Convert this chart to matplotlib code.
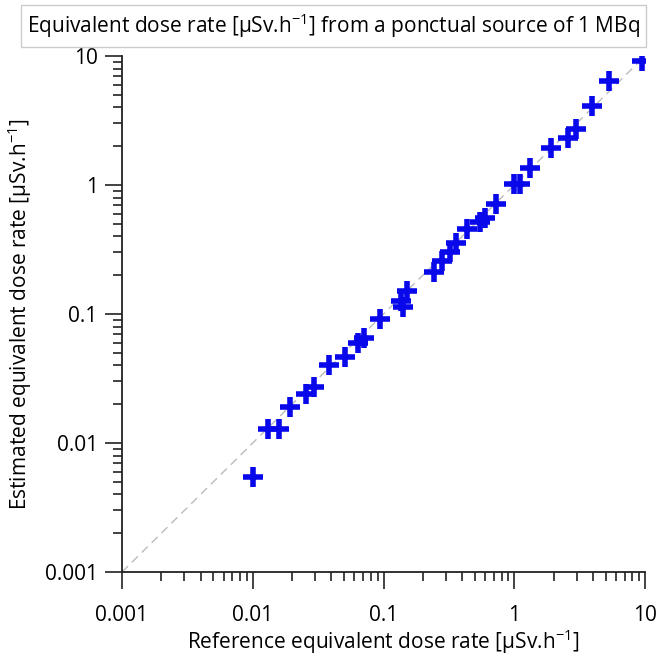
import numpy as np
import matplotlib.pyplot as plt

plt.rcParams['font.family'] = ['Open Sans', 'DejaVu Sans']
plt.rcParams['mathtext.fontset'] = 'custom'
plt.rcParams['mathtext.rm'] = 'Open Sans'

# reference vs estimated dose rates (uSv/h)
reference = [0.0101, 0.0130, 0.0160, 0.0193, 0.0256, 0.0294, 0.0383, 0.0505,
             0.0642, 0.0710, 0.0940, 0.136, 0.150, 0.141, 0.244, 0.281, 0.323,
             0.360, 0.433, 0.547, 0.598, 0.725, 0.996, 1.107, 1.324, 1.910,
             2.591, 2.967, 3.911, 5.333, 9.437]
estimated = [0.00548, 0.0128, 0.0128, 0.0191, 0.0240, 0.0273, 0.0399, 0.0464,
             0.0601, 0.0646, 0.0915, 0.126, 0.151, 0.114, 0.213, 0.258, 0.302,
             0.352, 0.454, 0.519, 0.552, 0.712, 1.018, 1.018, 1.362, 1.925,
             2.301, 2.703, 4.097, 6.434, 9.196]
tick_vals = [0.001, 0.01, 0.1, 1, 10]
tick_labels = ['0.001', '0.01', '0.1', '1', '10']

unit = r'[µSv.h$^{\mathregular{-1}}$]'

fig = plt.figure(figsize=(6.6, 6.57), dpi=100)
ax = fig.add_axes([122/660, 1 - 572/657, (645-122)/660, (572-56)/657])

# 1:1 line
ax.plot([0.001, 10], [0.001, 10], color='#bbbbbb', lw=1, dashes=(6, 4), zorder=1)
ax.plot(reference, estimated, ls='none', marker='+', ms=15, mew=4,
        color='#0808ea', zorder=3)

ax.set_xscale('log')
ax.set_yscale('log')
ax.set_xlim(0.001, 10)
ax.set_ylim(0.001, 10)
ax.set_xticks(tick_vals)
ax.set_xticklabels(tick_labels)
ax.set_yticks(tick_vals)
ax.set_yticklabels(tick_labels)

for s in ['top', 'right']:
    ax.spines[s].set_visible(False)
for s in ['left', 'bottom']:
    ax.spines[s].set_linewidth(1.3)
    ax.spines[s].set_color('#222222')

ax.tick_params(which='major', length=12.5, width=1.2, labelsize=15, color='#222222')
ax.tick_params(which='minor', length=6.5, width=1.2, color='#222222')
ax.tick_params(axis='x', which='major', pad=11)
ax.tick_params(axis='y', which='major', pad=5)

ax.set_xlabel('Reference equivalent dose rate ' + unit, fontsize=15, labelpad=1)
ax.set_ylabel('Estimated equivalent dose rate ' + unit, fontsize=15, labelpad=8)

fig.text(0.505, 1 - 26/657, 'Equivalent dose rate ' + unit + ' from a ponctual source of 1 MBq',
         ha='center', va='center', fontsize=15,
         bbox=dict(boxstyle='square,pad=0.3', facecolor='white', edgecolor='#cccccc', lw=1))

fig.savefig('out.png', dpi=100)
